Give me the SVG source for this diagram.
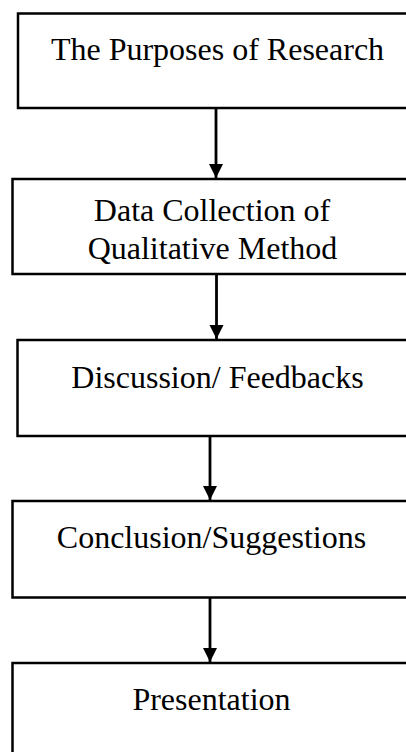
<svg xmlns="http://www.w3.org/2000/svg" width="406" height="752" viewBox="0 0 406 752">
<style>
.box{fill:#fff;stroke:#000;stroke-width:2.5}
.lbl{font-family:"Liberation Serif","Times New Roman",serif;font-size:32px;fill:#000;text-anchor:middle}
.con{stroke:#000;stroke-width:2.8;fill:none}
</style>
<defs>
<marker id="ah" markerUnits="userSpaceOnUse" markerWidth="16" markerHeight="16" refX="14" refY="7" orient="auto">
<path d="M0,0 L14,7 L0,14 Z" fill="#000"/>
</marker>
</defs>
<rect width="406" height="752" fill="#fff"/>
<g id="n1"><rect class="box" x="18" y="13.5" width="420" height="94.5"/><text class="lbl" x="217.5" y="59.5">The Purposes of Research</text></g>
<g id="n2"><rect class="box" x="12.5" y="179" width="420" height="95"/><text class="lbl" x="212" y="220.7">Data Collection of</text><text class="lbl" x="212.5" y="259">Qualitative Method</text></g>
<g id="n3"><rect class="box" x="17.5" y="340" width="420" height="96"/><text class="lbl" x="217.5" y="388.3">Discussion/ Feedbacks</text></g>
<g id="n4"><rect class="box" x="12.5" y="501" width="420" height="96.5"/><text class="lbl" x="211.5" y="547.7">Conclusion/Suggestions</text></g>
<g id="n5"><rect class="box" x="12.5" y="663" width="420" height="120"/><text class="lbl" x="211.5" y="710">Presentation</text></g>
<g id="connectors">
<line class="con" x1="216" y1="109" x2="216" y2="178" marker-end="url(#ah)"/>
<line class="con" x1="216.5" y1="275" x2="216.5" y2="339" marker-end="url(#ah)"/>
<line class="con" x1="210" y1="437" x2="210" y2="500" marker-end="url(#ah)"/>
<line class="con" x1="210" y1="598" x2="210" y2="662" marker-end="url(#ah)"/>
</g>
</svg>
